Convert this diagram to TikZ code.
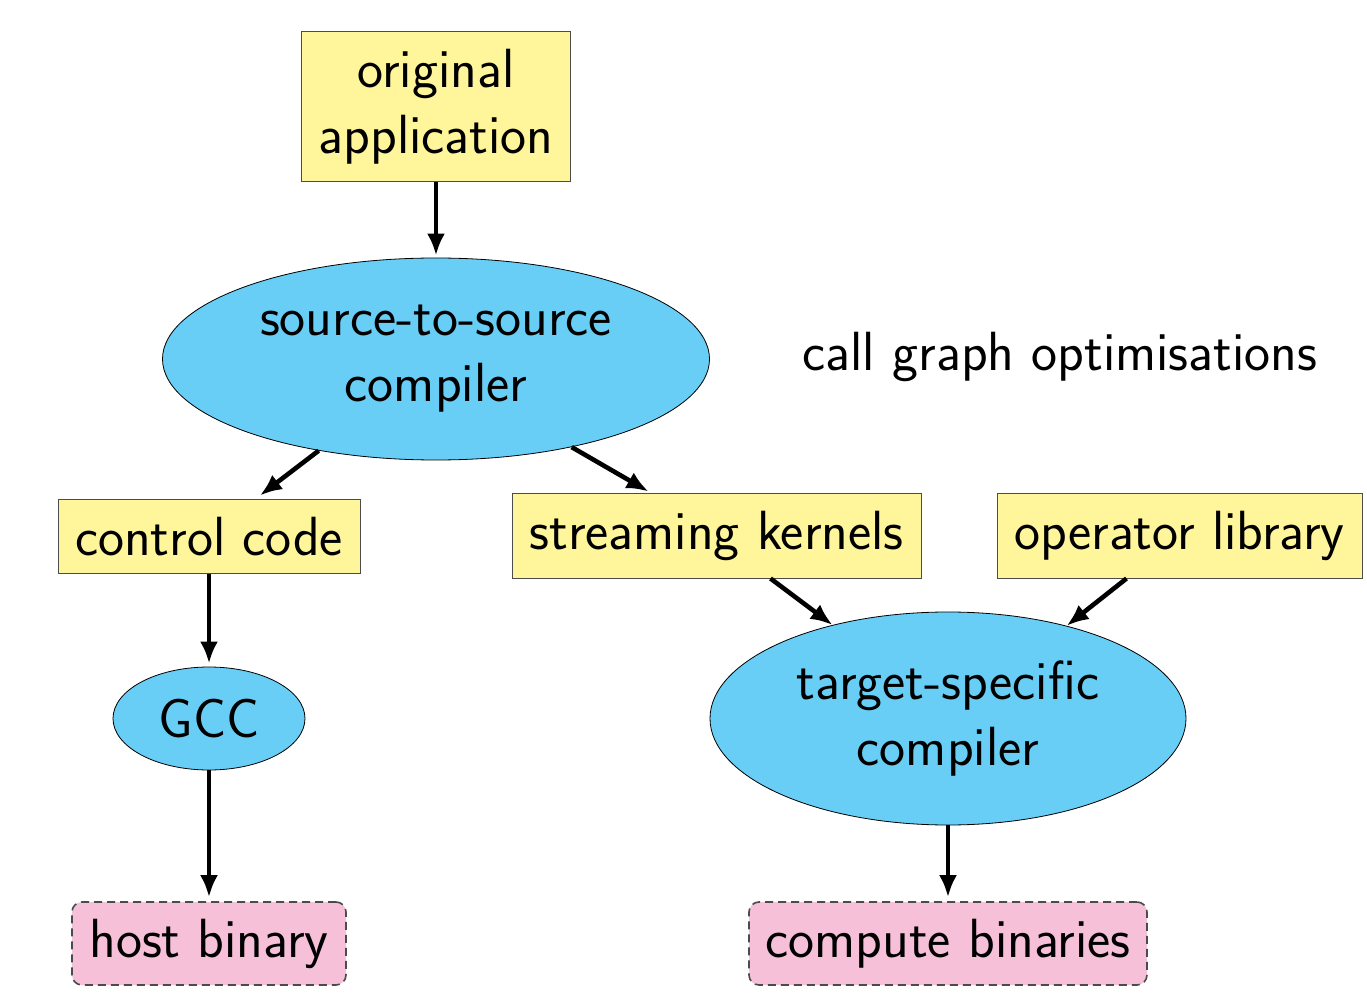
\documentclass[tikz,border=0pt]{standalone}
\usetikzlibrary{calc,arrows.meta,shapes.geometric}
\definecolor{boxyellow}{RGB}{255,245,155}
\definecolor{ellblue}{RGB}{104,206,245}
\definecolor{outpink}{RGB}{246,192,216}
\definecolor{dashgray}{RGB}{75,75,75}
\begin{document}
\begin{tikzpicture}[x=0.5pt,y=-0.5pt,
  every node/.style={font=\sffamily\fontsize{27.6}{33}\selectfont, inner sep=0pt, align=center},
  srcbox/.style={draw=black!70, line width=0.5pt, fill=boxyellow, rectangle},
  tool/.style={draw=black, line width=0.4pt, fill=ellblue, ellipse},
  outbox/.style={draw=dashgray, dashed, dash pattern=on 4pt off 2.5pt, line width=0.8pt, fill=outpink, rounded corners=5pt, rectangle},
  flow/.style={line width=2.3pt, -{Latex[length=11pt,width=9pt]}}
]
\useasboundingbox (0,0) rectangle (1367,1000);
\node[srcbox, minimum width=134.5pt, minimum height=75pt] (orig) at (436,107) {original\\application};
\node[tool, minimum width=273.5pt, minimum height=101pt] (s2s) at (436,359) {source-to-source\\compiler};
\node (cgo) at (1060,357) {call graph optimisations};
\node[srcbox, minimum width=151pt, minimum height=36.5pt] (cc) at (209,536.5) {control code};
\node[srcbox, minimum width=204.5pt, minimum height=42pt] (sk) at (716.5,536) {streaming kernels};
\node[srcbox, minimum width=182.5pt, minimum height=42pt] (ol) at (1179.5,536) {operator library};
\node[tool, minimum width=96pt, minimum height=51.5pt] (gcc) at (209,718.5) {GCC};
\node[tool, minimum width=238pt, minimum height=106.5pt] (tsc) at (948,718.5) {target-specific\\compiler};
\node[outbox, minimum width=137pt, minimum height=41.5pt] (host) at (209,943.5) {host binary};
\node[outbox, minimum width=199pt, minimum height=41.5pt] (comp) at (948,943.5) {compute binaries};

\draw[flow] (orig.south) -- ($(s2s.north)+(0,-2)$);
\draw[flow] (s2s.218) -- ($(cc.north)+(51,-4)$);
\draw[flow] (s2s.327.6) -- ($(sk.north)+(-68,-2)$);
\draw[flow] ($(sk.south)+(54,0)$) -- (tsc.141.3);
\draw[flow] ($(ol.south)+(-53,0)$) -- (tsc.38.4);
\draw[flow] (cc.south) -- ($(gcc.north)+(0,-3)$);
\draw[flow] (gcc.south) -- ($(host.north)+(0,-4)$);
\draw[flow] (tsc.south) -- ($(comp.north)+(0,-4)$);
\end{tikzpicture}
\end{document}
